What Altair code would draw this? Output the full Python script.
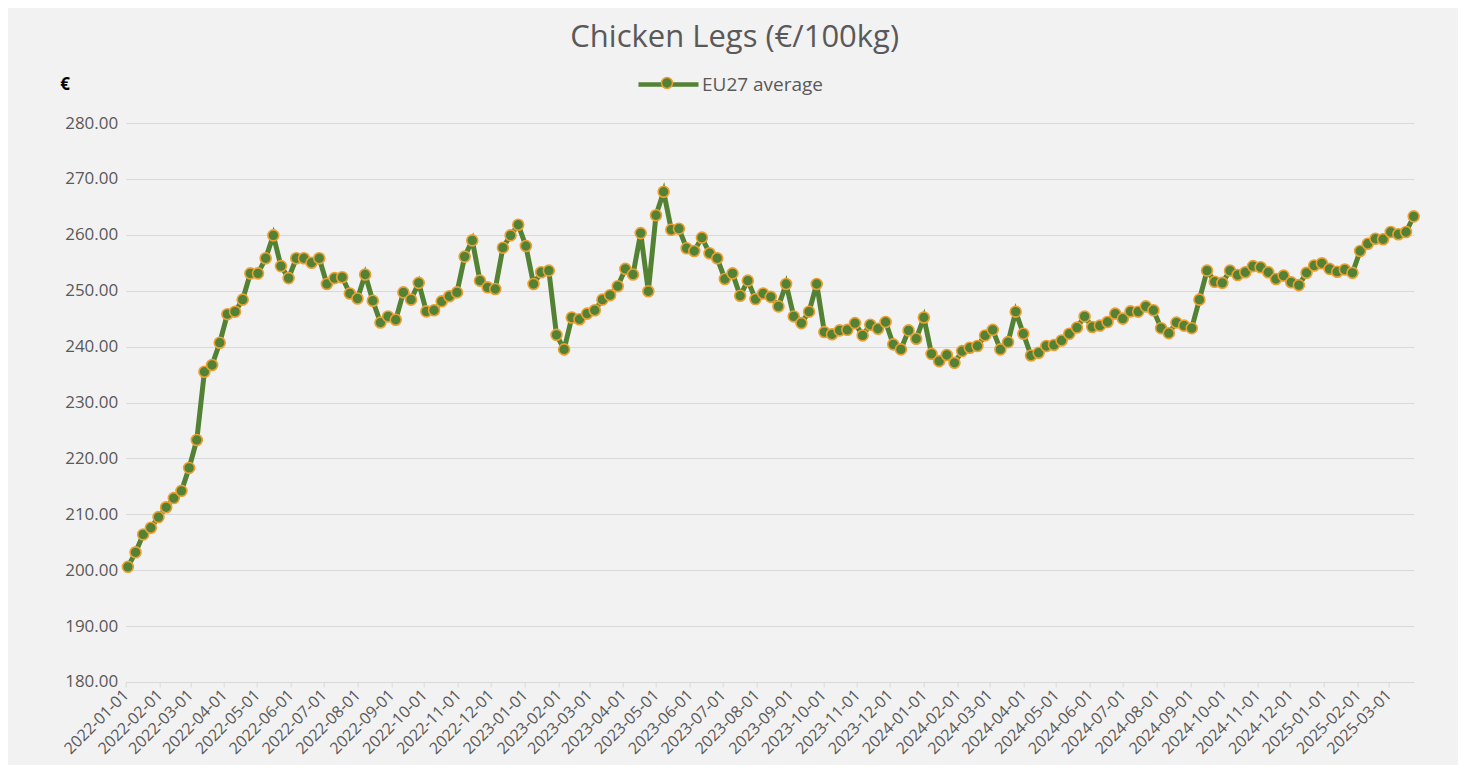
import altair as alt
import pandas as pd

# ---- data (weekly, Mondays) ----
first_week = "2022-01-03"
series_name = "EU27 average"
prices = [
    200.6, 203.2, 206.4, 207.6, 209.5, 211.25, 212.9, 214.2, 218.3, 223.3,
    235.5, 236.7, 240.7, 245.8, 246.25, 248.4, 253.1, 253.1, 255.8, 259.9,
    254.4, 252.25, 255.8, 255.8, 255.0, 255.8, 251.2, 252.25, 252.4, 249.5,
    248.6, 252.9, 248.2, 244.3, 245.4, 244.8, 249.7, 248.4, 251.4, 246.3,
    246.5, 248.1, 249.0, 249.7, 256.1, 259.0, 251.8, 250.6, 250.3, 257.7,
    259.9, 261.8, 258.0, 251.2, 253.3, 253.6, 242.1, 239.5, 245.2, 244.9,
    245.9, 246.5, 248.4, 249.2, 250.8, 253.9, 252.9, 260.3, 249.9, 263.5,
    267.7, 260.9, 261.1, 257.6, 257.1, 259.5, 256.7, 255.8, 252.1, 253.1,
    249.1, 251.8, 248.5, 249.5, 248.9, 247.2, 251.2, 245.4, 244.2, 246.25,
    251.2, 242.6, 242.2, 242.9, 243.0, 244.2, 242.0, 243.9, 243.2, 244.4,
    240.4, 239.5, 242.9, 241.4, 245.2, 238.7, 237.4, 238.5, 237.1, 239.2,
    239.8, 240.1, 242.0, 243.0, 239.5, 240.8, 246.25, 242.3, 238.4, 238.9,
    240.1, 240.3, 241.1, 242.3, 243.4, 245.4, 243.5, 243.75, 244.4, 245.9,
    245.0, 246.3, 246.25, 247.2, 246.5, 243.3, 242.4, 244.3, 243.75, 243.3,
    248.4, 253.6, 251.6, 251.4, 253.6, 252.8, 253.3, 254.4, 254.2, 253.3,
    252.1, 252.7, 251.5, 251.0, 253.2, 254.5, 254.9, 253.9, 253.4, 253.8,
    253.2, 257.1, 258.4, 259.3, 259.2, 260.5, 260.1, 260.5, 263.3,
]
y_ticks = [180, 190, 200, 210, 220, 230, 240, 250, 260, 270, 280]
chart_title = "Chicken Legs (€/100kg)"
y_title = "€"

dates = pd.date_range(first_week, periods=len(prices), freq="7D")
df = pd.DataFrame({
    "date": dates,
    "price": prices,
    "series": series_name,
    "series_pt": series_name,
})

GREEN = "#548235"
ORANGE = "#EDA032"
GREY_TXT = "#595959"
GRID = "#D9D9D9"
FONT = "Open Sans"

x_enc = alt.X(
    "date:T",
    scale=alt.Scale(
        domain=[alt.DateTime(year=2022, month=1, date=1),
                alt.DateTime(year=2025, month=3, date=24)],
        nice=False,
    ),
    axis=alt.Axis(
        title=None,
        format="%Y-%m-%d",
        tickCount=alt.TimeIntervalStep(interval="month", step=1),
        labelAngle=-45,
        labelAlign="right",
        labelBaseline="middle",
        labelOverlap=False,
        labelFlush=False,
        labelBound=False,
        labelPadding=5,
        labelFont=FONT,
        labelFontSize=16,
        labelColor=GREY_TXT,
        domainColor=GRID,
        domainWidth=1,
        tickColor=GRID,
        tickSize=5,
        grid=False,
    ),
)

y_enc = alt.Y(
    "price:Q",
    scale=alt.Scale(domain=[180, 280], nice=False, zero=False),
    axis=alt.Axis(
        title=y_title,
        titleAngle=0,
        titleX=-61,
        titleY=-39,
        titleAlign="center",
        titleBaseline="middle",
        titleFont=FONT,
        titleFontSize=17,
        titleFontWeight="bold",
        titleColor="#000000",
        values=y_ticks,
        format=".2f",
        labelFont=FONT,
        labelFontSize=17,
        labelColor=GREY_TXT,
        labelPadding=8,
        ticks=False,
        tickSize=0,
        domain=False,
        gridColor=GRID,
        gridWidth=1,
    ),
)

line = alt.Chart(df).mark_line(strokeWidth=5).encode(
    x=x_enc,
    y=y_enc,
    stroke=alt.Stroke(
        "series:N",
        scale=alt.Scale(range=[GREEN]),
        legend=alt.Legend(
            orient="none",
            legendX=530.3,
            legendY=-51,
            title=None,
            padding=0,
            symbolType="M-3,0L3,0",
            symbolSize=400,
            symbolStrokeWidth=4.5,
            labelOffset=21,
            labelFont=FONT,
            labelFontSize=19,
            labelColor=GREY_TXT,
        ),
    ),
)

points = alt.Chart(df).mark_point(
    filled=True, size=120, stroke=ORANGE, strokeWidth=1.6, opacity=1
).encode(
    x=x_enc,
    y=y_enc,
    fill=alt.Fill(
        "series_pt:N",
        scale=alt.Scale(range=[GREEN]),
        legend=alt.Legend(
            orient="none",
            legendX=534.8,
            legendY=-46.5,
            title=None,
            padding=0,
            symbolType="circle",
            symbolSize=121,
            symbolStrokeColor=ORANGE,
            symbolStrokeWidth=1.5,
            labelExpr="''",
            labelFontSize=8,
        ),
    ),
)

chart = alt.layer(line, points).properties(
    width=1288,
    height=559,
    title=alt.TitleParams(
        chart_title,
        font=FONT,
        fontSize=31,
        fontWeight="normal",
        color=GREY_TXT,
        anchor="middle",
        frame="group",
        offset=18,
        dx=-35,
    ),
    autosize=alt.AutoSizeParams(type="none"),
    padding={"left": 117.7, "top": 115, "right": 44, "bottom": 83},
).configure(background="#F2F2F2").configure_view(stroke=None)

chart.save("out.html", embed_options={"renderer": "svg", "actions": False})
